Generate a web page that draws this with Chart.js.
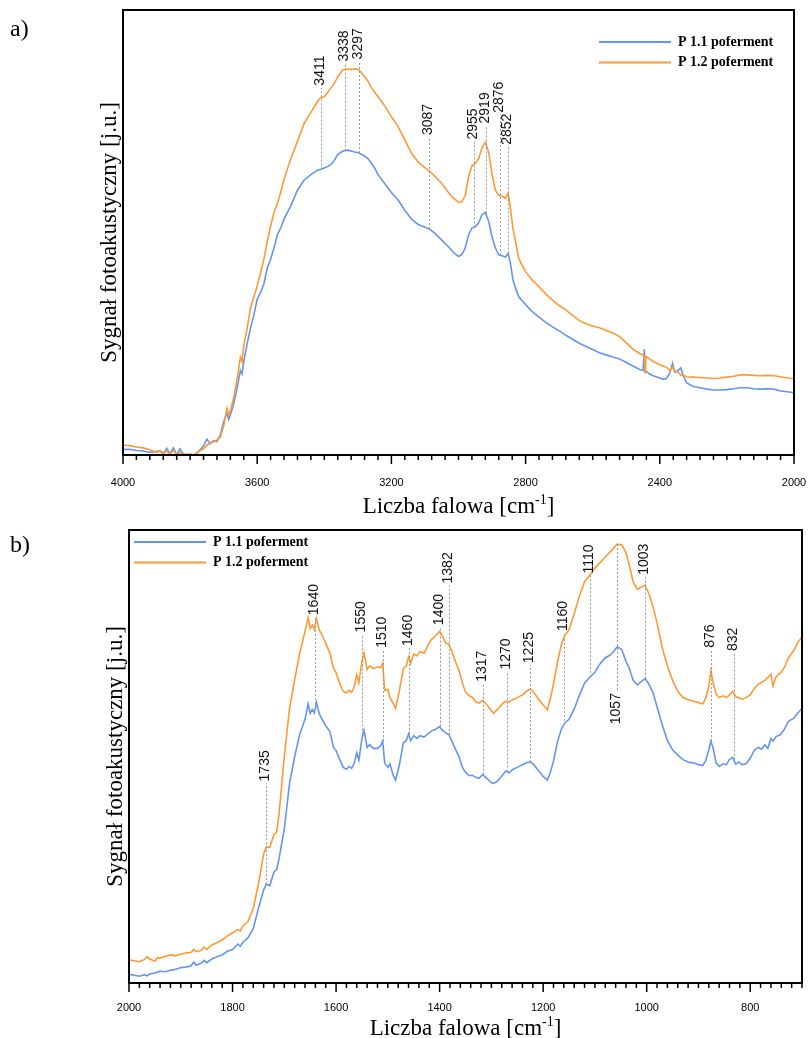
<!DOCTYPE html>
<html>
<head>
<meta charset="utf-8">
<script src="https://cdn.jsdelivr.net/npm/chart.js@4.4.0/dist/chart.umd.min.js"></script>
<style>
  body { margin: 0; background: #fff; }
  #wrap { position: relative; width: 809px; height: 1038px; }
  .panel { position: absolute; left: 0; width: 809px; }
  #pa { top: 0; height: 520px; }
  #pb { top: 520px; height: 518px; }
  .tag { position: absolute; left: 10px; font: 24px "Liberation Serif", "Times New Roman", serif; color: #000; }
</style>
</head>
<body>
<div id="wrap">
  <div class="panel" id="pa"><canvas id="chartA" width="809" height="520"></canvas></div>
  <div class="panel" id="pb"><canvas id="chartB" width="809" height="518"></canvas></div>
  <div class="tag" style="top:15px">a)</div>
  <div class="tag" style="top:531px">b)</div>
</div>
<script>
// ---- panel a: 4000-2000 cm-1 ----
const waveA = [4000,3980,3960,3940,3920,3900,3890,3880,3870,3860,
  3850,3840,3830,3820,3800,3790,3780,3770,3760,3750,
  3740,3730,3720,3710,3700,3690,3685,3680,3670,3660,
  3650,3645,3640,3630,3620,3610,3600,3590,3580,3570,
  3560,3550,3540,3530,3520,3500,3480,3460,3440,3420,
  3410,3400,3390,3380,3370,3360,3345,3330,3320,3310,
  3300,3290,3280,3270,3260,3250,3240,3220,3200,3180,
  3160,3140,3120,3100,3087,3070,3050,3030,3015,3000,
  2990,2980,2970,2960,2950,2940,2930,2920,2910,2900,
  2890,2880,2870,2860,2852,2845,2838,2830,2820,2800,
  2780,2760,2740,2720,2700,2680,2660,2640,2620,2600,
  2580,2560,2540,2520,2500,2480,2460,2450,2446,2444,
  2442,2430,2420,2400,2390,2380,2370,2362,2355,2345,
  2338,2330,2320,2300,2280,2260,2240,2220,2200,2180,
  2160,2140,2120,2100,2080,2060,2040,2020,2000];
const p11A = [1.2,1.3,1.0,0.9,0.6,0.8,0.9,0.2,1.5,0.3,
  1.6,0.1,1.4,0.2,0.1,0.0,0.4,1.2,2.0,3.6,
  2.5,3.2,3.0,4.5,7.5,9.5,8.0,9.0,11.5,15.0,
  19.0,18.2,21.0,25.0,28.5,31.5,35.0,36.5,38.5,42.0,
  44.0,46.5,49.5,51.0,53.0,56.0,59.5,61.8,63.0,64.0,
  64.2,64.5,64.8,65.3,66.2,67.5,68.3,68.5,68.3,68.1,
  68.0,67.6,67.2,66.6,65.6,64.5,63.0,61.0,59.0,57.3,
  55.0,53.0,51.8,51.2,50.8,49.8,48.3,46.8,45.5,44.6,
  45.0,46.5,49.5,51.0,51.3,52.2,54.0,54.5,52.5,49.0,
  46.5,45.0,44.8,44.5,45.3,43.0,39.5,37.5,35.5,33.8,
  32.2,31.0,29.8,28.8,27.9,26.9,26.0,25.1,24.4,23.7,
  23.0,22.5,22.0,21.6,20.8,20.0,19.2,19.0,23.8,18.8,
  18.9,18.2,17.8,17.3,17.0,17.2,18.5,20.6,18.6,19.0,
  19.6,17.8,16.2,15.4,15.1,14.8,14.6,14.6,14.7,14.9,
  15.1,15.1,14.9,14.8,14.9,14.8,14.4,14.2,14.0];
const p12A = [2.2,2.1,1.8,1.6,1.2,0.6,1.0,0.5,0.8,0.2,
  1.0,0.2,0.6,0.0,0.2,0.0,0.5,1.0,1.4,2.2,
  2.8,2.9,3.4,4.0,6.5,10.5,9.0,10.0,12.8,17.0,
  22.0,21.0,24.5,28.5,33.0,35.5,38.0,41.0,44.0,48.0,
  51.5,54.5,56.5,59.0,62.0,66.5,70.5,74.5,77.0,79.5,
  80.3,80.5,81.5,82.5,83.5,85.0,86.5,86.8,86.6,86.8,
  86.7,86.0,85.0,84.0,82.6,81.5,80.5,78.5,76.0,73.8,
  70.8,67.8,65.8,64.5,63.8,62.6,61.0,59.0,57.7,56.8,
  56.9,58.3,62.5,65.0,65.5,66.6,69.0,70.3,68.0,63.0,
  59.5,58.3,58.2,57.7,58.9,55.5,51.0,48.0,44.0,41.2,
  39.3,37.8,36.2,34.8,33.6,32.6,31.4,30.2,29.5,29.0,
  28.6,28.0,27.4,26.6,25.2,23.8,22.8,22.5,22.2,18.5,
  22.2,21.6,21.0,20.3,20.0,19.7,19.0,19.8,18.8,18.6,
  18.0,17.9,17.6,17.5,17.4,17.3,17.2,17.3,17.5,17.7,
  18.0,18.0,17.9,17.8,17.9,17.8,17.6,17.3,17.2];
const tickLabelsA = [4000, 3600, 3200, 2800, 2400, 2000];
const peaksA = [3411, 3338, 3297, 3087, 2955, 2919, 2876, 2852];
const peakLevelA = [83.0, 88.4, 88.9, 71.9, 70.9, 74.5, 76.9, 69.7];

// ---- panel b: 2000-700 cm-1 ----
const waveB = [2000,1990,1980,1970,1965,1960,1950,1945,1940,1930,
  1920,1910,1900,1890,1880,1875,1870,1860,1855,1850,
  1840,1830,1820,1810,1800,1790,1785,1780,1770,1760,
  1750,1740,1735,1728,1720,1715,1710,1700,1690,1680,
  1670,1660,1654,1650,1646,1642,1638,1632,1628,1620,
  1612,1605,1600,1594,1586,1580,1575,1570,1565,1560,
  1556,1550,1546,1540,1535,1528,1520,1514,1510,1506,
  1500,1496,1490,1485,1478,1470,1464,1460,1456,1450,
  1444,1438,1430,1424,1416,1408,1400,1395,1388,1382,
  1375,1369,1362,1356,1350,1343,1336,1330,1324,1317,
  1310,1302,1296,1288,1280,1272,1266,1258,1250,1240,
  1232,1225,1218,1210,1200,1192,1186,1180,1172,1165,
  1158,1150,1140,1130,1120,1110,1100,1090,1080,1072,
  1065,1057,1048,1040,1034,1026,1018,1010,1003,996,
  988,980,970,960,950,940,930,920,910,900,
  892,886,880,876,872,866,860,852,846,840,
  834,828,822,816,808,800,792,784,778,772,
  766,760,756,750,742,734,726,716,708,700];
const p11B = [1.9,1.7,1.5,1.8,1.6,2.0,2.2,2.4,2.6,2.5,
  2.8,3.0,3.4,3.5,3.8,4.6,3.9,4.4,5.0,4.5,
  5.3,5.8,6.2,7.0,7.4,8.6,8.1,9.0,10.0,12.0,
  16.5,20.5,21.8,21.5,24.5,25.0,27.5,34.0,44.0,50.0,
  55.0,58.2,61.6,59.5,60.4,59.6,61.9,59.3,58.4,56.8,
  55.5,52.0,51.3,49.6,47.6,47.2,47.8,47.4,48.5,50.8,
  49.2,54.0,55.8,52.0,52.6,51.8,51.8,52.4,53.4,48.5,
  47.6,48.4,46.0,44.8,48.0,53.0,53.6,55.0,53.5,54.6,
  54.0,54.6,54.3,54.9,55.6,56.0,56.6,55.8,55.2,54.8,
  53.0,51.5,49.8,47.6,46.5,45.8,45.8,45.4,45.2,46.0,
  45.3,44.4,44.0,44.6,45.7,46.8,46.4,47.2,47.6,48.2,
  48.6,48.8,48.2,47.0,45.6,44.8,46.5,49.0,53.4,56.0,
  57.4,58.2,60.5,63.5,66.2,67.5,68.6,70.5,71.8,72.3,
  73.0,74.2,73.6,71.0,69.6,66.8,65.8,66.6,67.2,66.0,
  64.2,61.0,57.0,53.5,51.5,50.3,49.3,48.8,48.6,48.2,
  48.0,49.0,51.5,53.4,52.0,48.6,47.8,48.4,48.2,49.4,
  49.8,48.3,48.8,48.2,48.4,49.6,51.4,52.0,51.6,52.6,
  51.8,54.0,53.4,54.4,54.8,56.0,57.8,58.4,59.6,60.6];
const p12B = [5.1,4.9,4.7,5.2,5.8,5.3,4.8,5.6,5.5,5.9,
  6.2,6.0,6.4,6.6,6.8,7.4,6.9,7.2,7.9,7.4,
  8.4,8.9,9.5,10.4,11.1,11.8,11.5,12.6,13.6,16.5,
  21.8,28.5,30.0,30.0,32.8,33.2,37.5,50.0,60.5,67.0,
  73.0,77.6,80.6,78.2,79.0,78.0,80.4,77.8,77.0,75.0,
  72.8,69.5,68.5,66.4,64.4,64.0,64.6,64.2,65.4,68.0,
  66.3,71.0,72.8,69.2,70.0,69.4,69.8,69.6,70.6,64.6,
  64.8,63.0,61.8,60.6,64.4,69.4,70.0,72.0,70.6,72.6,
  72.2,73.2,72.8,74.2,75.8,76.6,77.6,76.6,75.0,74.8,
  72.8,70.8,68.8,66.2,64.2,63.4,63.0,62.0,61.8,62.4,
  61.6,60.4,59.6,60.4,61.5,62.2,62.0,62.6,63.0,63.6,
  64.4,64.9,64.2,62.8,61.4,60.3,62.8,66.0,71.0,74.6,
  76.8,78.0,81.5,85.4,88.6,90.0,91.6,92.8,94.0,95.0,
  95.8,96.9,96.7,95.0,92.4,88.5,86.9,87.4,87.8,86.0,
  83.2,79.5,74.0,70.0,66.8,64.4,63.0,62.6,62.2,61.9,
  61.6,62.8,65.5,69.0,66.4,63.8,63.0,63.4,63.0,63.6,
  64.4,63.2,63.0,62.6,63.0,63.6,65.0,66.0,66.4,66.8,
  67.4,68.2,65.6,67.6,68.4,69.6,71.8,73.4,75.2,76.4];
const tickLabelsB = [2000, 1800, 1600, 1400, 1200, 1000, 800];
const peaksB = [1735, 1640, 1550, 1510, 1460, 1400, 1382, 1317, 1270, 1225, 1160, 1110, 1057, 1003, 876, 832];
const peakLevelB = [44.5, 81.2, 77.4, 74.0, 74.4, 79.0, 88.2, 66.5, 69.2, 70.6, 77.7, 90.4, 64.0, 90.1, 74.0, 73.3];
const peaksBelowB = [1057];

const seriesNames = ['P 1.1 poferment', 'P 1.2 poferment'];
const BLUE = 'rgb(100,149,240)';
const ORANGE = 'rgb(255,153,51)';
const SERIF = '"Liberation Serif", "Times New Roman", serif';
const SANS = '"Liberation Sans", Arial, sans-serif';

function valueAt(wave, vals, w) {
    for (let i = 0; i < wave.length - 1; i++) {
        if (w <= wave[i] && w >= wave[i + 1]) {
            const t = (wave[i] - w) / (wave[i] - wave[i + 1]);
            return vals[i] + t * (vals[i + 1] - vals[i]);
        }
    }
    return vals[vals.length - 1];
}

// frame, tick marks, x title, legend
function framePlugin(cfg) {
    return {
        id: 'frame',
        afterDraw(chart) {
            const ctx = chart.ctx;
            const a = chart.chartArea;
            const xs = chart.scales.x;
            ctx.save();
            ctx.strokeStyle = '#000';
            ctx.lineWidth = 2;
            ctx.strokeRect(a.left, a.top, a.right - a.left, a.bottom - a.top);
            ctx.lineWidth = 1.5;
            xs.ticks.forEach(t => {
                const px = xs.getPixelForValue(t.value);
                const len = t.value % cfg.major === 0 ? 9 : 5;
                ctx.beginPath();
                ctx.moveTo(px, a.bottom);
                ctx.lineTo(px, a.bottom + len);
                ctx.stroke();
            });

            // x title with superscript
            ctx.fillStyle = '#000';
            ctx.textBaseline = 'alphabetic';
            ctx.textAlign = 'left';
            const t1 = 'Liczba falowa [cm', t2 = '-1', t3 = ']';
            ctx.font = '23px ' + SERIF;
            const w1 = ctx.measureText(t1).width, w3 = ctx.measureText(t3).width;
            ctx.font = '14px ' + SERIF;
            const w2 = ctx.measureText(t2).width;
            let x = (a.left + a.right) / 2 - (w1 + w2 + w3) / 2;
            const y = cfg.titleY;
            ctx.font = '23px ' + SERIF;
            ctx.fillText(t1, x, y);
            x += w1;
            ctx.font = '14px ' + SERIF;
            ctx.fillText(t2, x, y - 9);
            x += w2;
            ctx.font = '23px ' + SERIF;
            ctx.fillText(t3, x, y);

            // legend
            ctx.font = 'bold 14px ' + SERIF;
            ctx.textBaseline = 'middle';
            chart.data.datasets.forEach((ds, i) => {
                const ly = cfg.legendY + i * 20.5;
                ctx.strokeStyle = ds.borderColor;
                ctx.lineWidth = 2;
                ctx.beginPath();
                ctx.moveTo(cfg.legendX, ly);
                ctx.lineTo(cfg.legendX + 72, ly);
                ctx.stroke();
                ctx.fillText(ds.label, cfg.legendX + 79, ly);
            });
            ctx.restore();
        }
    };
}

// dashed markers with rotated wavenumbers
function peakPlugin(wave, lower, upper, peaks, levels, below) {
    return {
        id: 'peaks',
        afterDatasetsDraw(chart) {
            const ctx = chart.ctx;
            const xs = chart.scales.x, ys = chart.scales.y;
            ctx.save();
            ctx.font = '14px ' + SANS;
            ctx.fillStyle = '#111';
            ctx.strokeStyle = '#999';
            ctx.lineWidth = 1;
            ctx.setLineDash([2, 2]);
            peaks.forEach((w, i) => {
                const x = Math.round(xs.getPixelForValue(w)) + 0.5;
                const isBelow = below.includes(w);
                const yText = ys.getPixelForValue(levels[i]);
                const yCurve = ys.getPixelForValue(valueAt(wave, isBelow ? upper : lower, w));
                ctx.beginPath();
                ctx.moveTo(x, yCurve);
                ctx.lineTo(x, isBelow ? yText - 2 : yText + 2);
                ctx.stroke();
                ctx.save();
                ctx.translate(x - 1.5, yText);
                ctx.rotate(-Math.PI / 2);
                ctx.textAlign = isBelow ? 'right' : 'left';
                ctx.textBaseline = 'middle';
                ctx.fillText(String(w), 0, 0);
                ctx.restore();
            });
            ctx.restore();
        }
    };
}

function makeChart(id, p) {
    const ctx = document.getElementById(id).getContext('2d');
    return new Chart(ctx, {
        type: 'line',
        data: {
            datasets: [
                {
                    label: seriesNames[0],
                    data: p.wave.map((w, i) => ({ x: w, y: p.s1[i] })),
                    borderColor: BLUE,
                    borderWidth: 1.6,
                    pointRadius: 0,
                    tension: 0,
                    order: 1
                },
                {
                    label: seriesNames[1],
                    data: p.wave.map((w, i) => ({ x: w, y: p.s2[i] })),
                    borderColor: ORANGE,
                    borderWidth: 1.6,
                    pointRadius: 0,
                    tension: 0,
                    order: 0
                }
            ]
        },
        options: {
            responsive: false,
            animation: false,
            events: [],
            layout: { padding: p.padding },
            scales: {
                x: {
                    type: 'linear',
                    reverse: true,
                    min: p.min,
                    max: p.max,
                    grid: { display: false, drawTicks: false },
                    border: { display: false },
                    ticks: {
                        stepSize: p.step,
                        autoSkip: false,
                        maxRotation: 0,
                        minRotation: 0,
                        padding: p.tickPad,
                        color: '#000',
                        font: { family: SANS, size: 11 },
                        callback: v => p.labels.includes(v) ? String(v) : ''
                    },
                    afterFit: s => { s.height = p.xHeight; s.paddingLeft = 0; s.paddingRight = 0; }
                },
                y: {
                    min: 0,
                    max: 100,
                    grid: { display: false, drawTicks: false },
                    border: { display: false },
                    ticks: { display: false },
                    title: {
                        display: true,
                        text: 'Sygnał fotoakustyczny [j.u.]',
                        color: '#000',
                        font: { family: SERIF, size: 23 },
                        padding: 0
                    },
                    afterFit: s => { s.width = 27; }
                }
            },
            plugins: {
                legend: { display: false },
                tooltip: { enabled: false }
            }
        },
        plugins: [
            peakPlugin(p.wave, p.s1, p.s2, p.peaks, p.levels, p.below),
            framePlugin(p.frame)
        ]
    });
}

makeChart('chartA', {
    wave: waveA, s1: p11A, s2: p12A,
    min: 2000, max: 4000, step: 40, labels: tickLabelsA,
    peaks: peaksA, levels: peakLevelA, below: [],
    padding: { left: 96, right: 15, top: 10, bottom: 0 },
    xHeight: 65, tickPad: 21,
    frame: { major: 400, titleY: 513, legendX: 599, legendY: 42 }
});

makeChart('chartB', {
    wave: waveB, s1: p11B, s2: p12B,
    min: 700, max: 2000, step: 20, labels: tickLabelsB,
    peaks: peaksB, levels: peakLevelB, below: peaksBelowB,
    padding: { left: 102, right: 7, top: 10, bottom: 0 },
    xHeight: 55, tickPad: 18,
    frame: { major: 200, titleY: 515, legendX: 134, legendY: 22 }
});
</script>
</body>
</html>
